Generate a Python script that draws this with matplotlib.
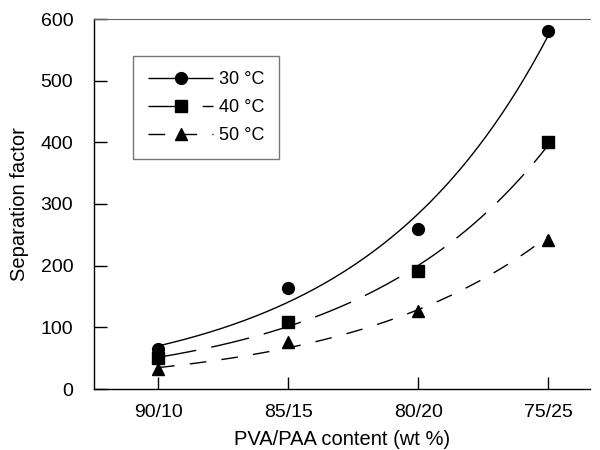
import matplotlib
matplotlib.use("Agg")
import matplotlib.pyplot as plt
import numpy as np

plt.rcParams['font.family'] = ['Liberation Sans', 'DejaVu Sans']

categories = ["90/10", "85/15", "80/20", "75/25"]
sep_30 = [65, 164, 259, 580]
sep_40 = [50, 108, 191, 400]
sep_50 = [32, 76, 126, 241]

series = [
    ("30 °C", sep_30, "o", (0, ()), 8.5),
    ("40 °C", sep_40, "s", (0, (28, 11)), 8),
    ("50 °C", sep_50, "^", (0, (12, 11)), 8.5),
]

fig = plt.figure(figsize=(6, 4.5), dpi=100)
ax = fig.add_axes([94 / 600, 1 - 389 / 450, 496 / 600, 370 / 450])

x = np.arange(len(categories))
xs = np.linspace(0, 3, 200)
for label, vals, mk, ls, ms in series:
    # exponential trendline through the measured points
    b, a = np.polyfit(x, np.log(vals), 1)
    ax.plot(xs, np.exp(a + b * xs), color="black", lw=1.0, linestyle=ls)
    ax.plot(x, vals, linestyle="none", marker=mk, ms=ms, color="black")
    ax.plot([], [], color="black", lw=1.0, linestyle=ls, marker=mk, ms=ms, label=label)

ax.set_xlim(-0.492, 3.32)
ax.set_ylim(0, 600)
ax.set_xticks(x)
ax.set_xticklabels(categories)
ax.set_yticks(range(0, 601, 100))
ax.tick_params(direction="in", length=9, width=1, labelsize=14)
ax.tick_params(axis="x", pad=11)
ax.tick_params(axis="y", pad=15)

ax.spines["right"].set_visible(False)
ax.spines["top"].set_color("#666666")
for s in ("left", "bottom"):
    ax.spines[s].set_linewidth(1.0)

ax.set_xlabel("PVA/PAA content (wt %)", fontsize=14.5, labelpad=6)
ax.set_ylabel("Separation factor", fontsize=14.5, labelpad=8)

leg = ax.legend(loc="upper left", bbox_to_anchor=(0.0786, 0.9), fontsize=13,
                handlelength=3.6, frameon=True, fancybox=False,
                borderaxespad=0, borderpad=0.85, labelspacing=0.6,
                handletextpad=0.3)
leg.get_frame().set_edgecolor("#555555")
leg.get_frame().set_linewidth(1.0)

fig.savefig("out.png", dpi=100)
